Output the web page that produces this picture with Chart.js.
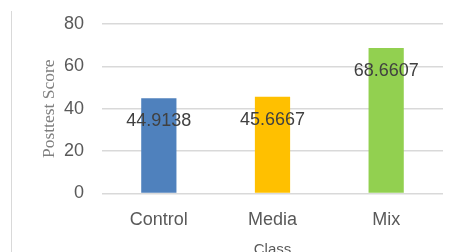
<!DOCTYPE html>
<html>
<head>
<meta charset="utf-8">
<script src="https://cdn.jsdelivr.net/npm/chart.js@4/dist/chart.umd.min.js"></script>
<style>
  body { margin:0; overflow:hidden; background:#fff; }
  #wrap { position:relative; width:458px; height:252px; overflow:hidden; }
  #frame { position:absolute; left:11px; top:11px; width:0; height:250px; border-left:1px solid #d9d9d9; }
  canvas { position:absolute; left:0; top:0; }
</style>
</head>
<body>
<div id="wrap">
  <div id="frame"></div>
  <canvas id="c" width="458" height="262"></canvas>
</div>
<script>
var classes = ["Control", "Media", "Mix"];
var scores = [44.9138, 45.6667, 68.6607];
var scoreLabels = ["44.9138", "45.6667", "68.6607"];
var barColors = ["#4f81bd", "#ffc000", "#92d050"];

// draws the value text inside each bar, a bit under its top
var valueLabels = {
  id: "valueLabels",
  afterDatasetsDraw: function(chart) {
    var ctx = chart.ctx;
    var meta = chart.getDatasetMeta(0);
    ctx.save();
    ctx.font = "18px 'Liberation Sans'";
    ctx.fillStyle = "#404040";
    ctx.textAlign = "center";
    ctx.textBaseline = "middle";
    meta.data.forEach(function(bar, i) {
      ctx.fillText(scoreLabels[i], bar.x, bar.y + 23);
    });
    ctx.restore();
  }
};

new Chart(document.getElementById("c"), {
  type: "bar",
  data: {
    labels: classes,
    datasets: [{
      data: scores,
      backgroundColor: barColors,
      barPercentage: 0.31,
      categoryPercentage: 1
    }]
  },
  options: {
    responsive: false,
    animation: false,
    layout: { padding: { left: 30, right: 15, top: 24, bottom: 0 } },
    plugins: { legend: { display: false }, tooltip: { enabled: false } },
    scales: {
      x: {
        afterFit: function(s) { s.height = 68.5; },
        grid: { display: false, drawTicks: false },
        border: { display: false },
        ticks: { color: "#595959", font: { family: "Liberation Sans", size: 18 }, padding: 16 },
        title: {
          display: true, text: "Class", color: "#595959",
          font: { family: "Liberation Sans", size: 15 },
          padding: { top: 11, bottom: 3 }
        }
      },
      y: {
        afterFit: function(s) { s.width = 72; s.paddingTop = 0; s.paddingBottom = 0; },
        min: 0, max: 80,
        grid: { color: "#d9d9d9", lineWidth: 1.5, drawTicks: false },
        border: { display: false },
        ticks: { stepSize: 20, color: "#595959", font: { family: "Liberation Sans", size: 18 }, padding: 18 },
        title: {
          display: true, text: "Posttest Score", color: "#7f7f7f",
          font: { family: "Liberation Serif", size: 17.5 },
          padding: { top: 9, bottom: 6 }
        }
      }
    }
  },
  plugins: [valueLabels]
});
</script>
</body>
</html>
